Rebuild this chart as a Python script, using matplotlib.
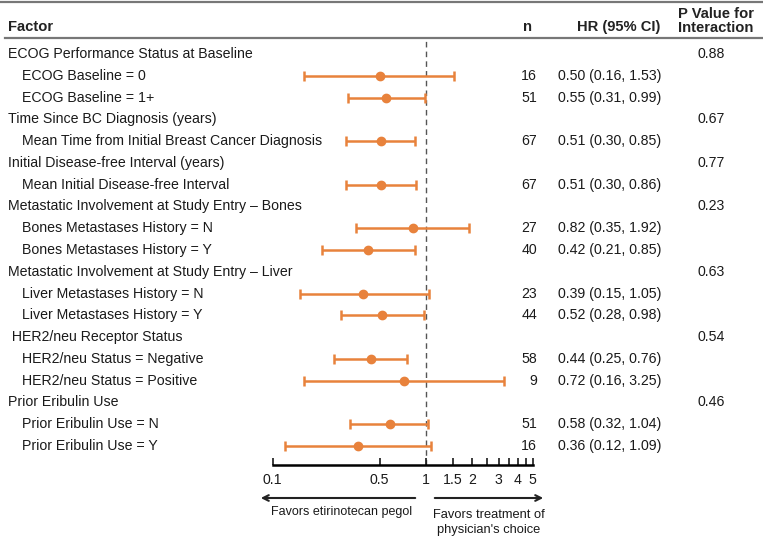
import numpy as np
from matplotlib import pyplot as plt
from matplotlib import transforms

plt.rc('font', family=['Liberation Sans', 'DejaVu Sans'], size=10.2)

# rows of the table (top to bottom)
labels = ['ECOG Performance Status at Baseline', 'ECOG Baseline = 0', 'ECOG Baseline = 1+',
          'Time Since BC Diagnosis (years)', 'Mean Time from Initial Breast Cancer Diagnosis',
          'Initial Disease-free Interval (years)', 'Mean Initial Disease-free Interval',
          'Metastatic Involvement at Study Entry \u2013 Bones', 'Bones Metastases History = N',
          'Bones Metastases History = Y',
          'Metastatic Involvement at Study Entry \u2013 Liver', 'Liver Metastases History = N',
          'Liver Metastases History = Y',
          ' HER2/neu Receptor Status', 'HER2/neu Status = Negative', 'HER2/neu Status = Positive',
          'Prior Eribulin Use', 'Prior Eribulin Use = N', 'Prior Eribulin Use = Y']
is_group = [True, False, False, True, False, True, False, True, False, False,
            True, False, False, True, False, False, True, False, False]
n_vals = [None, 16, 51, None, 67, None, 67, None, 27, 40, None, 23, 44, None, 58, 9, None, 51, 16]
hr = [None, 0.50, 0.55, None, 0.51, None, 0.51, None, 0.82, 0.42, None, 0.39, 0.52, None, 0.44, 0.72, None, 0.58, 0.36]
ci_lo = [None, 0.16, 0.31, None, 0.30, None, 0.30, None, 0.35, 0.21, None, 0.15, 0.28, None, 0.25, 0.16, None, 0.32, 0.12]
ci_hi = [None, 1.53, 0.99, None, 0.85, None, 0.86, None, 1.92, 0.85, None, 1.05, 0.98, None, 0.76, 3.25, None, 1.04, 1.09]
p_int = ['0.88', None, None, '0.67', None, '0.77', None, '0.23', None, None,
         '0.63', None, None, '0.54', None, None, '0.46', None, None]

ticks = [0.1, 0.5, 1, 1.5, 2, 2.5, 3, 3.5, 4, 4.5, 5]
tick_labels = ['0.1', '0.5', '1', '1.5', '2', '', '3', '', '4', '', '5']

orange = '#E8823C'
txt = '#1a1a1a'
W, H = 763, 540

fig = plt.figure(figsize=(W / 100, H / 100), dpi=100)
ax = fig.add_axes([272.7 / W, 1 - 465 / H, 260 / W, 427.5 / H])

rows = np.arange(len(labels))
sp = (446 - 54) / 18
ax.set_ylim((465 - 54) / sp, (37.5 - 54) / sp)
ax.set_xscale('log')
ax.set_xlim(0.1, 5)

idx = [i for i in rows if hr[i] is not None]
x = np.array([hr[i] for i in idx])
lo = np.array([ci_lo[i] for i in idx])
hi = np.array([ci_hi[i] for i in idx])
ax.errorbar(x, idx, xerr=[x - lo, hi - x], fmt='o', color=orange, ms=6,
            elinewidth=1.8, capsize=3.6, capthick=1.8, zorder=3)
ax.axvline(1, color='#555555', lw=1, ls=(0, (4, 3)), zorder=1)

for s in ['top', 'right', 'left']:
    ax.spines[s].set_visible(False)
ax.spines['bottom'].set_linewidth(1.8)
ax.set_yticks([])
ax.set_xticks(ticks)
ax.set_xticklabels(tick_labels)
ax.minorticks_off()
ax.tick_params(axis='x', direction='in', length=5, width=1.2, pad=6, labelsize=10.2, colors=txt)

# table columns (x in figure fraction, y on the row scale)
tr = transforms.blended_transform_factory(fig.transFigure, ax.transData)
for i in rows:
    xl = 8 if is_group[i] else 22
    ax.text(xl / W, i, labels[i], transform=tr, va='center', ha='left', color=txt)
    if n_vals[i] is not None:
        ax.text(537 / W, i, str(n_vals[i]), transform=tr, ha='right', va='center', color=txt)
        ax.text(558 / W, i, f'{hr[i]:.2f} ({ci_lo[i]:.2f}, {ci_hi[i]:.2f})', transform=tr,
                ha='left', va='center', color=txt)
    if p_int[i] is not None:
        ax.text(711 / W, i, p_int[i], transform=tr, ha='center', va='center', color=txt)

# header
hy = 1 - 27 / H
fig.text(8 / W, hy, 'Factor', ha='left', va='center', fontweight='bold', color='#222222', fontsize=10.6)
fig.text(532 / W, hy, 'n', ha='right', va='center', fontweight='bold', color='#222222', fontsize=10.6)
fig.text(619 / W, hy, 'HR (95% CI)', ha='center', va='center', fontweight='bold', color='#222222',
         fontsize=10.6)
fig.text(716 / W, 1 - 20.5 / H, 'P Value for\nInteraction', ha='center', va='center',
         fontweight='bold', color='#222222', fontsize=10.6, linespacing=1.0)
fig.add_artist(plt.Line2D([0, 1], [1 - 2 / H, 1 - 2 / H], color='#777777', lw=1.6))
fig.add_artist(plt.Line2D([5 / W, 1], [1 - 37.5 / H, 1 - 37.5 / H], color='#777777', lw=1.6))

# direction arrows
ay = 1 - 498 / H
ax.annotate('', xy=(258 / W, ay), xytext=(418 / W, ay), xycoords='figure fraction',
            arrowprops=dict(arrowstyle='->', lw=1.5, color='#222222'), annotation_clip=False)
ax.annotate('', xy=(546 / W, ay), xytext=(432 / W, ay), xycoords='figure fraction',
            arrowprops=dict(arrowstyle='->', lw=1.5, color='#222222'), annotation_clip=False)
fig.text(342 / W, 1 - 512 / H, 'Favors etirinotecan pegol', ha='center', va='center',
         fontsize=9, color=txt)
fig.text(489 / W, 1 - 522.5 / H, "Favors treatment of\nphysician's choice", ha='center', va='center',
         fontsize=9.3, color=txt, linespacing=1.25)

plt.savefig('out.png', dpi=100)
